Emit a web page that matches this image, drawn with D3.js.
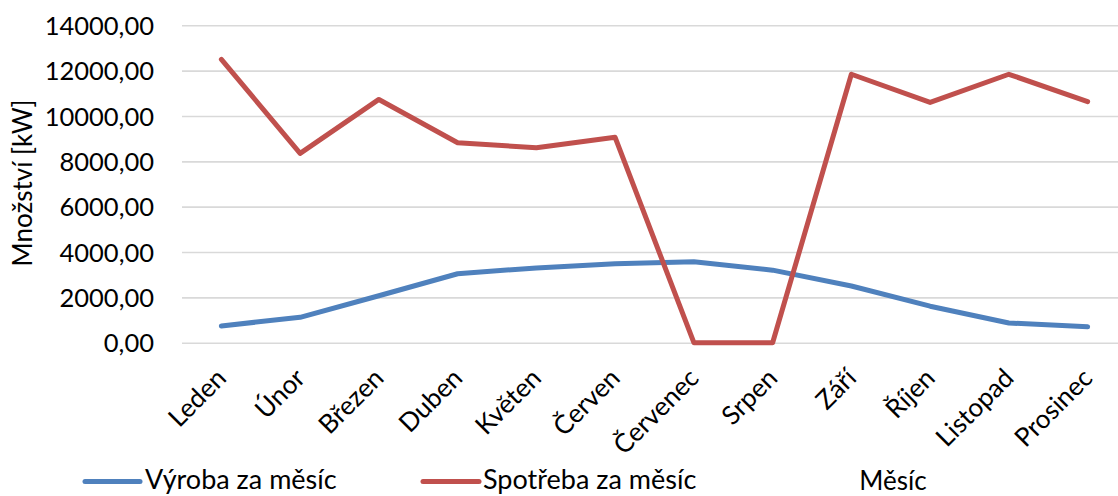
<!DOCTYPE html>
<html>
<head>
<meta charset="utf-8">
<script src="https://cdn.jsdelivr.net/npm/d3@7"></script>
<style>
  html, body { margin: 0; padding: 0; background: #fff; }
  svg { display: block; }
  text { font-family: Lato, "Open Sans", sans-serif; fill: #000; }
</style>
</head>
<body>
<svg id="chart" width="1118" height="496"></svg>
<script>
// Měsíce
const months = ["Leden", "Únor", "Březen", "Duben", "Květen", "Červen",
  "Červenec", "Srpen", "Září", "Říjen", "Listopad", "Prosinec"];

// Výroba za měsíc [kW]
const production = [740, 1120, 2070, 3040, 3300, 3480, 3570, 3200, 2500, 1610, 870, 700];

// Spotřeba za měsíc [kW]
const consumption = [12500, 8350, 10730, 8820, 8600, 9060, 0, 0, 11840, 10600, 11840, 10630];

// Hodnoty osy Y
const yTicks = [0, 2000, 4000, 6000, 8000, 10000, 12000, 14000];

const seriesNames = ["Výroba za měsíc", "Spotřeba za měsíc"];
const seriesColors = ["#4F81BD", "#C0504D"];

const svg = d3.select("#chart");

const plot = { left: 182, right: 1127, top: 25.3, bottom: 342.7 };

const x = d3.scalePoint()
  .domain(months)
  .range([plot.left, plot.right])
  .padding(0.5);

const y = d3.scaleLinear()
  .domain([0, 14000])
  .range([plot.bottom, plot.top]);

const fmt = v => d3.format(".2f")(v).replace(".", ",");

// vodorovná mřížka
const yAxis = d3.axisLeft(y)
  .tickValues(yTicks)
  .tickSize(-(plot.right - plot.left))
  .tickPadding(28)
  .tickFormat(fmt);

const gy = svg.append("g")
  .attr("transform", `translate(${plot.left},0)`)
  .call(yAxis);
gy.select(".domain").remove();
gy.selectAll(".tick line").attr("stroke", "#d9d9d9").attr("stroke-width", 1.6);
gy.selectAll(".tick text")
  .attr("font-size", 25.5)
  .attr("font-family", "Lato, sans-serif")
  .attr("fill", "#000")
  .attr("dy", "0.36em");

// popisky kategorií
const xAxis = d3.axisBottom(x).tickSize(0).tickPadding(0);
const gx = svg.append("g")
  .attr("transform", `translate(0,${plot.bottom})`)
  .call(xAxis);
gx.select(".domain").remove();
gx.selectAll(".tick text")
  .attr("font-size", 26)
  .attr("font-family", "Lato, sans-serif")
  .attr("fill", "#000")
  .attr("text-anchor", "end")
  .attr("dy", 0)
  .attr("y", 0)
  .attr("transform", "translate(6,37) rotate(-45)");

// čáry řad
const line = d3.line()
  .x((d, i) => x(months[i]))
  .y(d => y(d));

[production, consumption].forEach((vals, k) => {
  svg.append("path")
    .datum(vals)
    .attr("fill", "none")
    .attr("stroke", seriesColors[k])
    .attr("stroke-width", 5)
    .attr("stroke-linejoin", "round")
    .attr("stroke-linecap", "round")
    .attr("d", line);
});

// název osy Y
svg.append("text")
  .attr("transform", "translate(32,183) rotate(-90)")
  .attr("text-anchor", "middle")
  .attr("font-size", 26)
  .text("Množství [kW]");

// legenda
const legendItems = [
  { x1: 85, x2: 140, tx: 145 },
  { x1: 423, x2: 479, tx: 483 }
];
legendItems.forEach((it, k) => {
  svg.append("line")
    .attr("x1", it.x1).attr("x2", it.x2)
    .attr("y1", 481.5).attr("y2", 481.5)
    .attr("stroke", seriesColors[k])
    .attr("stroke-width", 5)
    .attr("stroke-linecap", "round");
  svg.append("text")
    .attr("x", it.tx)
    .attr("y", 489)
    .attr("font-size", 27)
    .text(seriesNames[k]);
});

// název osy X
svg.append("text")
  .attr("x", 893)
  .attr("y", 490)
  .attr("text-anchor", "middle")
  .attr("font-size", 26)
  .text("Měsíc");
</script>
</body>
</html>
